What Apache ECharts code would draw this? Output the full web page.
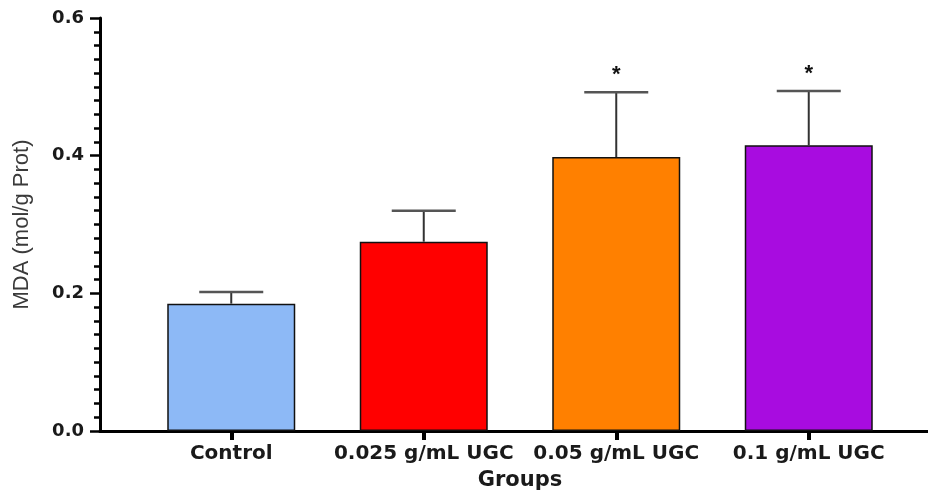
<!DOCTYPE html>
<html>
<head>
<meta charset="utf-8">
<script src="https://cdn.jsdelivr.net/npm/echarts@6/dist/echarts.min.js"></script>
<style>html,body{margin:0;padding:0;background:#fff}#c{width:928px;height:494px}</style>
</head>
<body>
<div id="c"></div>
<script>
const categories = ['Control', '0.025 g/mL UGC', '0.05 g/mL UGC', '0.1 g/mL UGC'];
const means = [0.185, 0.275, 0.398, 0.415];
const errors = [0.017, 0.045, 0.094, 0.079];
const significance = ['', '', '*', '*'];
const barColors = ['#8DB9F6', '#FF0000', '#FF8000', '#A80CE0'];
const yTicks = [0, 0.2, 0.4, 0.6];

const chart = echarts.init(document.getElementById('c'), null, {renderer: 'canvas'});
const boldFont = 'DejaVu Sans, Liberation Sans, Arial, sans-serif';

const option = {
  animation: false,
  backgroundColor: '#fff',
  grid: [
    {left: 100, right: 0, top: 18, bottom: 63, outerBoundsMode: 'none', containLabel: false},
    {left: 135, right: 23, top: 18, bottom: 63, outerBoundsMode: 'none', containLabel: false}
  ],
  xAxis: [
    {gridIndex: 0, type: 'category', data: [''], axisLine: {show: true, lineStyle: {color: '#000', width: 3}},
     axisTick: {show: false}, axisLabel: {show: false}},
    {gridIndex: 1, type: 'category', data: categories,
     axisLine: {show: false},
     axisTick: {show: true, alignWithLabel: true, length: 9, lineStyle: {color: '#000', width: 4}},
     axisLabel: {interval: 0, margin: 13, fontFamily: boldFont, fontWeight: 'bold', fontSize: 20, color: '#1a1a1a'},
     name: 'Groups', nameLocation: 'middle', nameGap: 39,
     nameTextStyle: {fontFamily: boldFont, fontWeight: 'bold', fontSize: 21, color: '#1a1a1a'}}
  ],
  yAxis: [
    {gridIndex: 0, type: 'value', min: yTicks[0], max: yTicks[yTicks.length - 1], interval: 0.2,
     axisLine: {show: true, lineStyle: {color: '#000', width: 3}},
     axisTick: {show: true, length: 10, lineStyle: {color: '#000', width: 2.5}},
     minorTick: {show: true, splitNumber: 10, length: 6, lineStyle: {color: '#000', width: 2.5}},
     splitLine: {show: false},
     axisLabel: {margin: 16, formatter: v => v.toFixed(1), fontFamily: boldFont, fontWeight: 'bold', fontSize: 18, color: '#1a1a1a'},
     name: 'MDA (mol/g Prot)', nameLocation: 'middle', nameGap: 67, nameRotate: 90,
     nameTextStyle: {fontFamily: 'Liberation Sans, Arial, sans-serif', fontSize: 22, color: '#3a3a3a'}},
    {gridIndex: 1, type: 'value', min: 0, max: 0.6, interval: 0.2, show: false}
  ],
  series: [
    {type: 'bar', xAxisIndex: 1, yAxisIndex: 1, barWidth: 128,
     data: means.map((v, i) => ({value: v, itemStyle: {color: barColors[i], borderColor: '#111', borderWidth: 1.5}})),
     z: 2},
    {type: 'custom', xAxisIndex: 1, yAxisIndex: 1, z: 3,
     data: means.map((v, i) => [i, v, errors[i]]),
     renderItem: function (params, api) {
       const i = api.value(0);
       const m = api.value(1);
       const e = api.value(2);
       const p0 = api.coord([i, m]);
       const p1 = api.coord([i, m + e]);
       const half = 32;
       const children = [
         {type: 'line', shape: {x1: p0[0], y1: p0[1], x2: p1[0], y2: p1[1]}, style: {stroke: '#333', lineWidth: 2}},
         {type: 'line', shape: {x1: p1[0] - half, y1: p1[1], x2: p1[0] + half, y2: p1[1]}, style: {stroke: '#555', lineWidth: 2.5}}
       ];
       const s = significance[params.dataIndex];
       if (s) {
         children.push({type: 'text', x: p1[0], y: p1[1] - 6,
           style: {text: s, fontSize: 22, fontWeight: 'bold', fontFamily: 'Liberation Sans, Arial, sans-serif',
                   fill: '#111', align: 'center', verticalAlign: 'bottom'}});
       }
       return {type: 'group', children: children};
     }}
  ]
};
chart.setOption(option);
</script>
</body>
</html>
